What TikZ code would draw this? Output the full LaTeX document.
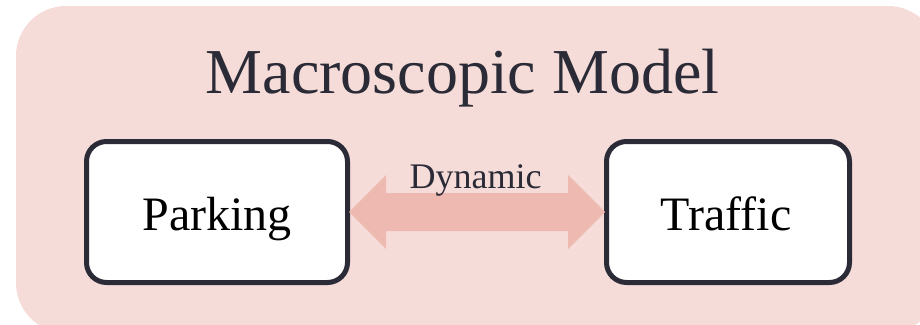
\documentclass[tikz,border=0pt]{standalone}
\usepackage{fontspec}
\setmainfont{Liberation Serif}
\usetikzlibrary{calc}
\definecolor{bgpink}{RGB}{246,220,216}
\definecolor{arrpink}{RGB}{237,185,176}
\definecolor{inkdark}{RGB}{42,43,54}
\begin{document}
\begin{tikzpicture}[x=1pt,y=-1pt,
  boxstyle/.style={draw=inkdark,line width=5pt,fill=white,rounded corners=20pt,minimum height=141pt,inner sep=0pt,font=\fontsize{48}{48}\selectfont,text=black},
  lbl/.style={anchor=base,inner sep=0pt,text=inkdark}]
\useasboundingbox (0,0) rectangle (920,324);
\begin{scope}
\clip (0,0) rectangle (920,324);
\fill[bgpink,rounded corners=50pt] (16,6) rectangle (938,333);
\end{scope}
\node[lbl,font=\fontsize{64}{64}\selectfont] (title) at (462.5,93) {Macroscopic Model};
\node[boxstyle,minimum width=261pt] (parking) at (217,212) {};
\node[anchor=base,inner sep=0pt,font=\fontsize{48}{48}\selectfont] (ptext) at (217,230) {Parking};
\node[boxstyle,minimum width=243pt] (traffic) at (728,212) {};
\node[anchor=base,inner sep=0pt,font=\fontsize{48}{48}\selectfont] (ttext) at (726,230) {Traffic};
\coordinate (aL) at ([xshift=-1pt]parking.east);
\coordinate (aR) at ([xshift=1pt]traffic.west);
\fill[arrpink] (aL) -- ++(37,-37) -- ++(0,18) -- ($(aR)+(-37,-19)$) -- ++(0,-18) -- (aR) -- ++(-37,37) -- ++(0,-18) -- ($(aL)+(37,19)$) -- ++(0,18) -- cycle;
\node[lbl,font=\fontsize{36}{36}\selectfont] (dyn) at (475.5,188) {Dynamic};
\end{tikzpicture}
\end{document}
